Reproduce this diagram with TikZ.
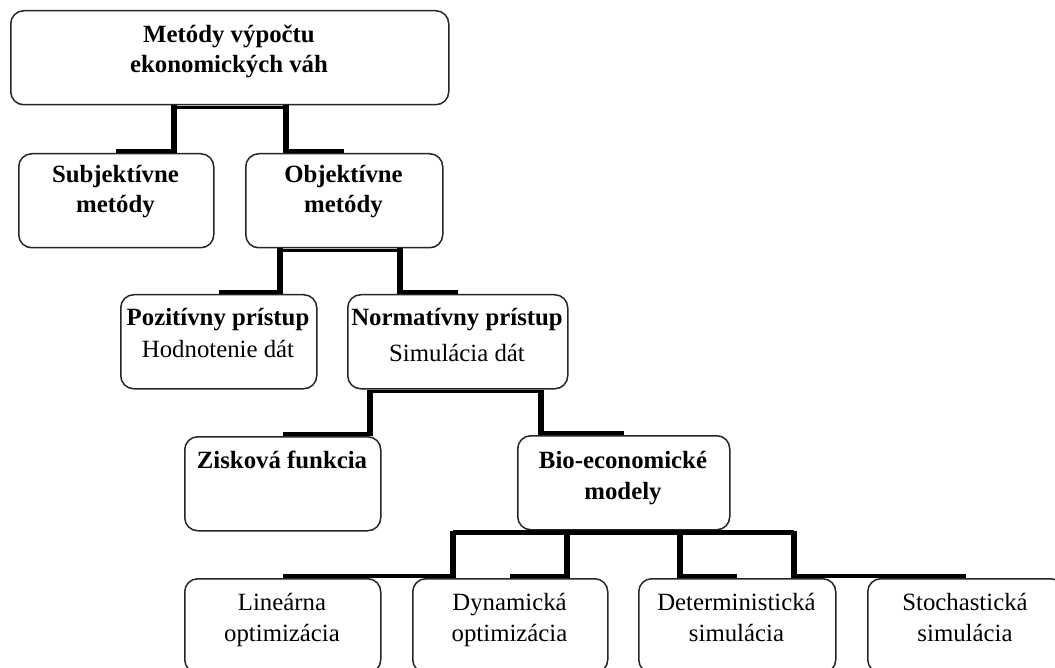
\documentclass[tikz,border=0pt]{standalone}
\usepackage{fontspec}
\setmainfont{Liberation Serif}
\usetikzlibrary{calc}
\begin{document}
\begin{tikzpicture}[x=1pt,y=-1pt,
  box/.style={draw=black!85, line width=1.5pt, rounded corners=13pt, inner sep=0pt, anchor=north west, fill=white},
  bt/.style={anchor=base, inner sep=0pt, font=\fontsize{24.8}{30}\selectfont\bfseries},
  rt/.style={anchor=base, inner sep=0pt, font=\fontsize{24.8}{30}\selectfont},
  hbar/.style={line width=3.8pt},
  vbar/.style={line width=6pt}]
\useasboundingbox (0,0) rectangle (1055,668);
\clip (0,0) rectangle (1055,668);
\fill[white] (0,0) rectangle (1055,668);

% boxes
\node[box, minimum width=438pt, minimum height=94pt] (top) at (10,10) {};
\node[box, minimum width=195pt, minimum height=94pt] (subj) at (18,153) {};
\node[box, minimum width=197pt, minimum height=94pt] (obj) at (245,153) {};
\node[box, minimum width=196pt, minimum height=94pt] (poz) at (120,294) {};
\node[box, minimum width=220pt, minimum height=94pt] (norm) at (347,294) {};
\node[box, minimum width=196pt, minimum height=94pt] (zisk) at (184,436) {};
\node[box, minimum width=212pt, minimum height=94pt] (bio) at (517,435) {};
\node[box, minimum width=196pt, minimum height=94pt] (lin) at (184,578) {};
\node[box, minimum width=195pt, minimum height=94pt] (dyn) at (412,578) {};
\node[box, minimum width=197pt, minimum height=94pt] (det) at (638,578) {};
\node[box, minimum width=196pt, minimum height=94pt] (sto) at (867,578) {};

% texts
\node[bt] (topA) at (229,43) {Metódy výpočtu};
\node[bt] (topB) at (229,73) {ekonomických váh};
\node[bt] (subjA) at (115.5,183) {Subjektívne};
\node[bt] (subjB) at (115.5,213) {metódy};
\node[bt] (objA) at (343.5,183) {Objektívne};
\node[bt] (objB) at (343.5,213) {metódy};
\node[bt] (pozA) at (218,326) {Pozitívny prístup};
\node[rt] (pozB) at (218,358) {Hodnotenie dát};
\node[bt] (normA) at (457,326) {Normatívny prístup};
\node[rt] (normB) at (457,362) {Simulácia dát};
\node[bt] (ziskA) at (282,468) {Zisková funkcia};
\node[bt] (bioA) at (623,468) {Bio-economické};
\node[bt] (bioB) at (623,499) {modely};
\node[rt] (linA) at (282,610) {Lineárna};
\node[rt] (linB) at (282,641) {optimizácia};
\node[rt] (dynA) at (509.5,610) {Dynamická};
\node[rt] (dynB) at (509.5,641) {optimizácia};
\node[rt] (detA) at (736.5,610) {Deterministická};
\node[rt] (detB) at (736.5,641) {simulácia};
\node[rt] (stoA) at (965,610) {Stochastická};
\node[rt] (stoB) at (965,641) {simulácia};

% junction columns
\coordinate (a1) at (174,0);
\coordinate (a2) at (286,0);
\coordinate (b1) at (280,0);
\coordinate (b2) at (400,0);
\coordinate (c1) at (370,0);
\coordinate (c2) at (541,0);
\coordinate (d1) at (453,0);
\coordinate (d2) at (567,0);
\coordinate (d3) at (680,0);
\coordinate (d4) at (794,0);

% level 1
\draw[hbar] ($(a1|-top.south)+(0,2)$) -- ($(a2|-top.south)+(0,2)$);
\draw[vbar] (a1|-top.south) -- (a1|-subj.north);
\draw[vbar] (a2|-top.south) -- (a2|-obj.north);
\draw[hbar] ($(a1|-subj.north)+(0,-2)$) -- ($(subj.north)+(0,-2)$);
\draw[hbar] ($(a2|-obj.north)+(0,-2)$) -- ($(obj.north)+(0,-2)$);

% level 2
\draw[hbar] ($(b1|-obj.south)+(0,2)$) -- ($(b2|-obj.south)+(0,2)$);
\draw[vbar] (b1|-obj.south) -- (b1|-poz.north);
\draw[vbar] (b2|-obj.south) -- (b2|-norm.north);
\draw[hbar] ($(b1|-poz.north)+(0,-2)$) -- ($(poz.north)+(0,-2)$);
\draw[hbar] ($(b2|-norm.north)+(0,-2)$) -- ($(norm.north)+(0,-2)$);

% level 3
\draw[hbar] ($(c1|-norm.south)+(0,2)$) -- ($(c2|-norm.south)+(0,2)$);
\draw[vbar] (c1|-norm.south) -- (c1|-zisk.north);
\draw[vbar] (c2|-norm.south) -- (c2|-bio.north);
\draw[hbar] ($(c1|-zisk.north)+(0,-2)$) -- ($(zisk.north)+(0,-2)$);
\draw[hbar] ($(c2|-bio.north)+(0,-2)$) -- ($(bio.north)+(0,-2)$);

% level 4
\draw[hbar, line width=4.5pt] ($(d1|-bio.south)+(0,2)$) -- ($(d4|-bio.south)+(0,2)$);
\draw[vbar] (d1|-bio.south) -- (d1|-lin.north);
\draw[vbar] (d2|-bio.south) -- (d2|-dyn.north);
\draw[vbar] (d3|-bio.south) -- (d3|-det.north);
\draw[vbar] (d4|-bio.south) -- (d4|-sto.north);
\draw[hbar] ($(d1|-lin.north)+(0,-2)$) -- ($(lin.north)+(0,-2)$);
\draw[hbar] ($(d2|-dyn.north)+(0,-2)$) -- ($(dyn.north)+(0,-2)$);
\draw[hbar] ($(d3|-det.north)+(0,-2)$) -- ($(det.north)+(0,-2)$);
\draw[hbar] ($(d4|-sto.north)+(0,-2)$) -- ($(sto.north)+(0,-2)$);
\end{tikzpicture}
\end{document}
